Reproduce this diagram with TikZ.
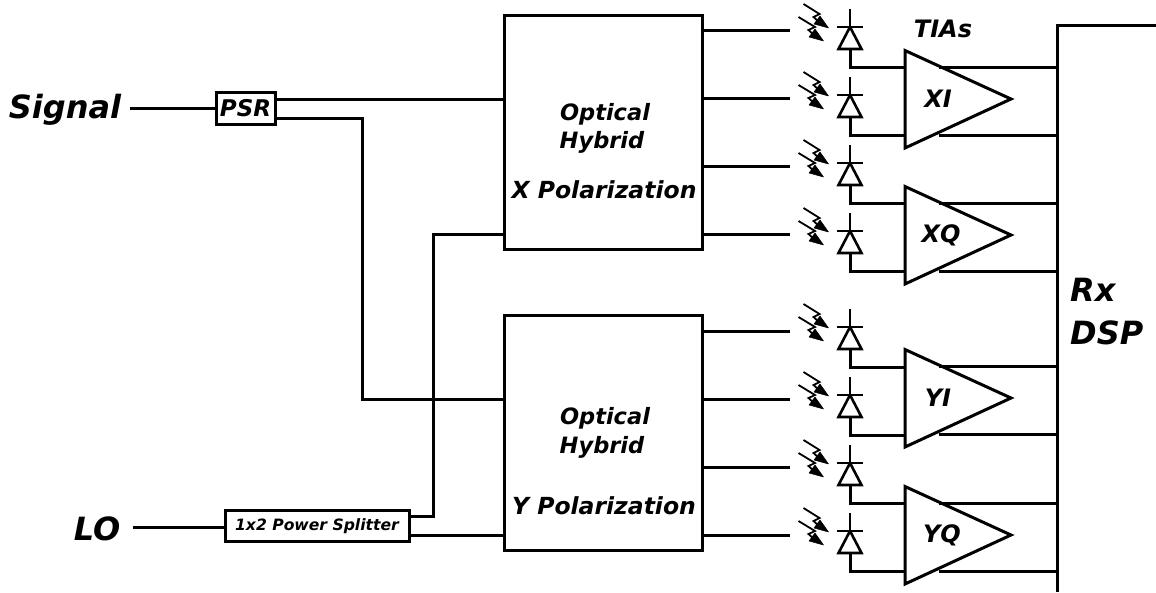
\documentclass[tikz,border=0pt]{standalone}
\usepackage{fontspec}
\setmainfont{DejaVu Sans}[BoldFont=DejaVu Sans Bold,BoldItalicFont=DejaVu Sans Bold Oblique,ItalicFont=DejaVu Sans Oblique]
\usetikzlibrary{arrows.meta,calc}
\tikzset{
  x=1pt,y=-1pt,
  wire/.style={line width=3pt,line join=miter},
  thinwire/.style={line width=2.6pt},
  block/.style={draw,line width=3pt,fill=white,inner sep=0pt,align=center,font=\bfseries\itshape},
  lab/.style={font=\bfseries\itshape,inner sep=0pt},
  ray/.style={line width=1.8pt},
  rayhead/.style={fill=black,draw=black,line width=0.5pt,line join=round},
}
\newcommand{\mylabel}[4]{\node[lab,font=\fontsize{#3}{#3}\selectfont\bfseries\itshape] (#1) at #2 {#4};}
% photodiode: name, bar y
\newcommand{\pdiode}[2]{%
  \coordinate (#1-top) at (850,#2-18);
  \coordinate (#1-bar) at (850,#2);
  \coordinate (#1-cath) at (850,#2+22);
  \coordinate (#1-out) at (850,#2+40);
  \draw[thinwire] (#1-top) -- (#1-bar);
  \draw[thinwire] (837,#2) -- (863,#2);
  \draw[thinwire,line join=miter] (#1-bar) -- (838.5,#2+22) -- (861.5,#2+22) -- cycle;
  \draw[ray] (803.5,#2-23) -- (819.5,#2-13) -- (813.5,#2-10) -- (819,#2-5);
  \fill[rayhead] (828.5,#2+1) -- (814,#2-3) -- (820,#2-11) -- cycle;
  \draw[ray] (798.5,#2-10) -- (815,#2) -- (808.5,#2+3) -- (814,#2+8);
  \fill[rayhead] (823.5,#2+14) -- (809,#2+10) -- (815,#2+2) -- cycle;
}
% amplifier: name, centre y, label x, label
\newcommand{\tia}[4]{%
  \draw[wire,line join=miter] (905,#2-48.5) coordinate (#1-a) -- (1011,#2) -- (905,#2+49) coordinate (#1-b) -- cycle;
  \coordinate (#1-in1) at (905,#2-32);
  \coordinate (#1-in2) at (905,#2+36);
  \coordinate (#1-o1) at (939,#2-32);
  \coordinate (#1-o2) at (939,#2+36);
  \mylabel{#1-t}{(#3,#2)}{24}{#4}
}
\begin{document}
\begin{tikzpicture}
\useasboundingbox (0,0) rectangle (1156,592);
% labels
\mylabel{sig}{(65,110)}{32}{Signal}
\mylabel{lo}{(97,529)}{32}{LO}
\mylabel{tias}{(943,29)}{24}{TIAs}
\node[lab,font=\fontsize{32}{43}\selectfont\bfseries\itshape,align=left,anchor=west] (rxdsp) at (1070,312) {Rx\\DSP};
% blocks
\node[block,minimum width=198pt,minimum height=234pt] (hx) at (603,132) {};
\node[block,minimum width=198pt,minimum height=235pt] (hy) at (603.5,432.5) {};
\mylabel{hxa}{(605,114)}{22.5}{Optical}
\mylabel{hxb}{(602,142)}{22.5}{Hybrid}
\mylabel{hxc}{(604,190)}{23.5}{X Polarization}
\mylabel{hya}{(605,418)}{22.5}{Optical}
\mylabel{hyb}{(602,447)}{22.5}{Hybrid}
\mylabel{hyc}{(604,506)}{23.5}{Y Polarization}
\node[block,minimum width=59pt,minimum height=32pt,font=\fontsize{23}{23}\selectfont\bfseries\itshape] (psr) at (245.5,108) {PSR};
\node[block,minimum width=184pt,minimum height=31pt,font=\fontsize{15.6}{15.6}\selectfont\bfseries\itshape] (spl) at (317,526) {1x2 Power Splitter};
% input side connectors
\coordinate (sigend) at (130,108);
\coordinate (loend) at (133,527);
\draw[wire] (sigend) -- (psr.west);
\draw[wire] (loend) -- (spl.west |- loend);
\draw[wire] (psr.east |- 0,99) -- (hx.west |- 0,99);
\draw[wire] (psr.east |- 0,118) -- (362,118) -- (362,399) -- (hy.west |- 0,399);
\draw[wire] (spl.east |- 0,516) -- (433,516) -- (433,234) -- (hx.west |- 0,234);
\draw[wire] (spl.east |- 0,535) -- (hy.west |- 0,535);
% hybrid outputs
\foreach \n/\y in {a/30,b/98,c/166,d/234} {
  \coordinate (xo\n) at (790,\y);
  \draw[wire] (hx.east |- xo\n) -- (xo\n);
}
\foreach \n/\y in {a/331,b/399,c/467,d/535} {
  \coordinate (yo\n) at (790,\y);
  \draw[wire] (hy.east |- yo\n) -- (yo\n);
}
% diodes
\pdiode{d1}{27}\pdiode{d2}{95}\pdiode{d3}{163}\pdiode{d4}{231}
\pdiode{d5}{327}\pdiode{d6}{395}\pdiode{d7}{463}\pdiode{d8}{531}
% amplifiers
\tia{xi}{99}{938}{XI}\tia{xq}{235}{941}{XQ}\tia{yi}{398}{938}{YI}\tia{yq}{535}{942}{YQ}
% DSP edge
\coordinate (dsptop) at (1156,25);
\coordinate (dspcorner) at (1057,25);
\coordinate (dspbot) at (1057,592);
\draw[wire] (dsptop) -- (dspcorner) -- (dspbot);
% diode to amp, amp to DSP
\foreach \d/\a/\p in {d1/xi/in1,d2/xi/in2,d3/xq/in1,d4/xq/in2,d5/yi/in1,d6/yi/in2,d7/yq/in1,d8/yq/in2} {
  \draw[wire] (\d-cath) -- (\d-out) -- (\d-out -| \a-\p);
}
\foreach \a in {xi,xq,yi,yq} {
  \draw[wire] (\a-o1) -- (\a-o1 -| dspcorner);
  \draw[wire] (\a-o2) -- (\a-o2 -| dspcorner);
}
\end{tikzpicture}
\end{document}
